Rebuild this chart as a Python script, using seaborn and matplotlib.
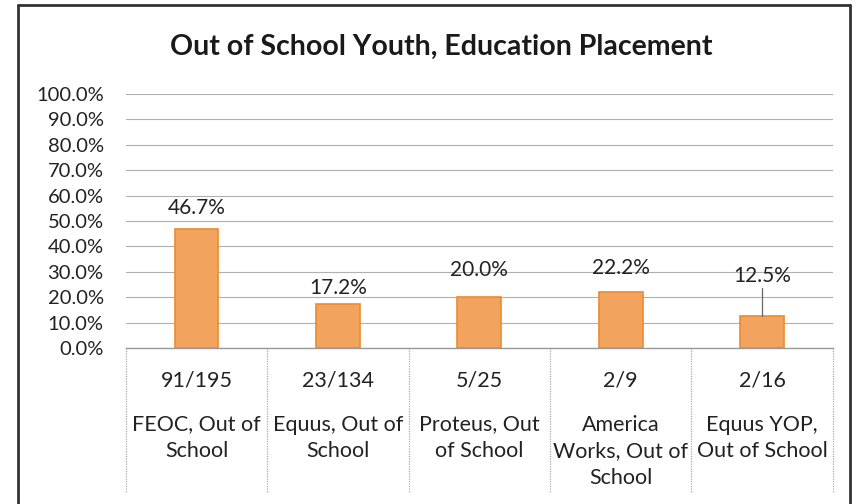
import matplotlib
matplotlib.use("Agg")
import matplotlib.pyplot as plt
import matplotlib.transforms as mtransforms
from matplotlib.lines import Line2D
import seaborn as sns
import pandas as pd

# Chart data
programs = ["FEOC, Out of\nSchool", "Equus, Out of\nSchool", "Proteus, Out\nof School",
            "America\nWorks, Out of\nSchool", "Equus YOP,\nOut of School"]
counts = ["91/195", "23/134", "5/25", "2/9", "2/16"]
rates = [0.467, 0.172, 0.200, 0.222, 0.125]
rate_labels = ["46.7%", "17.2%", "20.0%", "22.2%", "12.5%"]
yticks = [0.0, 0.1, 0.2, 0.3, 0.4, 0.5, 0.6, 0.7, 0.8, 0.9, 1.0]

df = pd.DataFrame({"program": programs, "rate": rates})

sns.set_theme(style="white")
plt.rcParams["font.family"] = ["Lato", "DejaVu Sans"]

fig = plt.figure(figsize=(8.62, 5.04), dpi=100)
ax = fig.add_axes([0.146, 0.3095, 0.820, 0.504])

sns.barplot(data=df, x="program", y="rate", ax=ax, color="#F2A35E",
            edgecolor="#EE8A2E", linewidth=1.2, width=0.31, saturation=1)

ax.set_ylim(0, 1.0)
ax.set_xlim(-0.5, len(programs) - 0.5)
ax.set_yticks(yticks)
ax.set_yticklabels([f"{t * 100:.1f}%" for t in yticks], fontsize=14.5, color="#222222")
ax.tick_params(axis="y", length=0, pad=16)
ax.set_xticks([])
ax.set_xlabel("")
ax.set_ylabel("")
for s in ["top", "right", "left"]:
    ax.spines[s].set_visible(False)
ax.spines["bottom"].set_color("#9a9a9a")
ax.spines["bottom"].set_linewidth(1.0)
ax.grid(axis="y", color="#b0b0b0", linewidth=0.8)
ax.set_axisbelow(True)

# value labels (last one pulled up with a leader line, as in the original)
offsets = [0.084, 0.064, 0.107, 0.093]
for i, (r, lab) in enumerate(zip(rates, rate_labels)):
    if i < len(offsets):
        ax.text(i, r + offsets[i], lab, ha="center", va="center", fontsize=15, color="#222222")
    else:
        ax.text(i, 0.283, lab, ha="center", va="center", fontsize=15, color="#222222")
        ax.plot([i, i], [r, 0.238], color="#666666", linewidth=0.9)

# multi-level category axis below the plot
trans = mtransforms.blended_transform_factory(ax.transData, ax.transAxes)
for i, (c, p) in enumerate(zip(counts, programs)):
    ax.text(i, -0.126, c, transform=trans, ha="center", va="center", fontsize=15.5, color="#222222")
    ax.text(i, -0.262, p, transform=trans, ha="center", va="top", fontsize=15.5,
            color="#222222", linespacing=1.42)
for b in range(len(programs) + 1):
    ax.add_line(Line2D([b - 0.5, b - 0.5], [0, -0.567], transform=trans, color="#a8a8a8",
                       linewidth=0.9, linestyle=(0, (1, 1)), clip_on=False))

fig.text(0.512, 0.907, "Out of School Youth, Education Placement", ha="center", va="center",
         fontsize=20.5, fontweight="bold", color="#1a1a1a")

# chart frame
fig.add_artist(Line2D([18 / 862, 18 / 862], [0, 1 - 5 / 504], transform=fig.transFigure,
                      color="#333333", linewidth=2))
fig.add_artist(Line2D([18 / 862, 850 / 862], [1 - 5 / 504, 1 - 5 / 504], transform=fig.transFigure,
                      color="#333333", linewidth=2))
fig.add_artist(Line2D([850 / 862, 850 / 862], [0, 1 - 5 / 504], transform=fig.transFigure,
                      color="#333333", linewidth=2))

fig.savefig("out.png", dpi=100)
